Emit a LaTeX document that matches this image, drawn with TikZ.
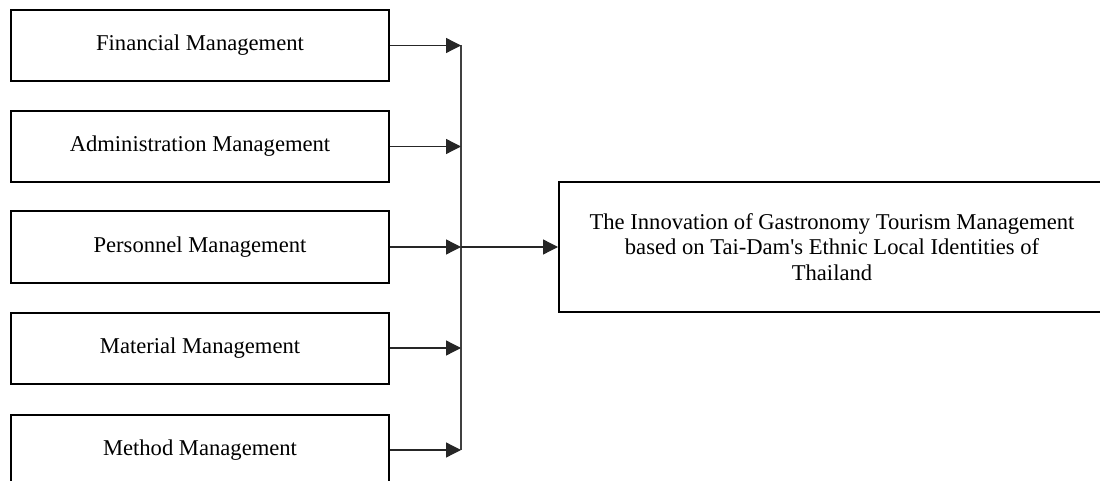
\documentclass[tikz,border=0pt]{standalone}
\usepackage{fontspec}
\setmainfont{Liberation Serif}
\usetikzlibrary{arrows.meta}
\begin{document}
\begin{tikzpicture}[x=1pt,y=-1pt,
  box/.style={draw=black,line width=2pt,minimum width=378pt,minimum height=71pt,inner sep=0pt,
    font=\fontsize{22.6pt}{25.5pt}\selectfont},
  bigbox/.style={draw=black,line width=2pt,minimum width=546pt,minimum height=130pt,inner sep=0pt,
    align=center,font=\fontsize{22.6pt}{25.5pt}\selectfont},
  arr/.style={draw=black!85,line width=1.3pt,-{Triangle[length=15pt,width=15pt]}},
  bus/.style={draw=black!75,line width=1.5pt}]
\useasboundingbox (0,0) rectangle (1100,481);
\clip (0,0) rectangle (1100,481);
\node[box] (b1) at (200,45.5) {Financial Management};
\node[box] (b2) at (200,146.5) {Administration Management};
\node[box] (b3) at (200,247) {Personnel Management};
\node[box] (b4) at (200,348) {Material Management};
\node[box] (b5) at (200,450) {Method Management};
\node[bigbox] (t) at (832,247) {The Innovation of Gastronomy Tourism Management\\based on Tai-Dam\textquotesingle s Ethnic Local Identities of\\Thailand};
\coordinate (bus) at (461,0);
\draw[bus] (b1.east -| bus) -- (b5.east -| bus);
\foreach \b in {b1,b2,b3,b4,b5}{
  \draw[arr] (\b.east) -- (\b.east -| bus);
}
\draw[arr] (b3.east -| bus) -- (t.west |- b3.east);
\end{tikzpicture}
\end{document}
